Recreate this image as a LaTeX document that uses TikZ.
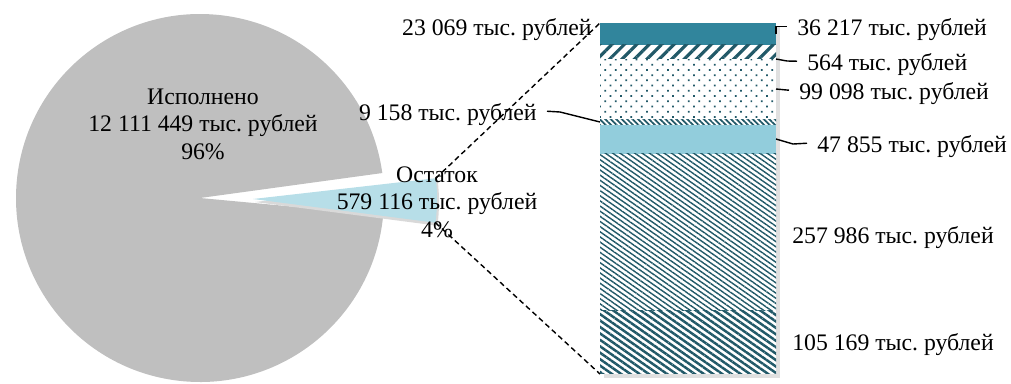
\documentclass[tikz,border=0pt]{standalone}
\usepackage{fontspec}
\setmainfont{Liberation Serif}
\usetikzlibrary{positioning,patterns.meta}
\definecolor{doneGray}{HTML}{BFBFBF}
\definecolor{restBlue}{HTML}{B7DEE8}
\definecolor{barTeal}{HTML}{31859C}
\definecolor{hatchTeal}{HTML}{215968}
\definecolor{paleTeal}{HTML}{92CDDC}
\frenchspacing

\begin{document}
\begin{tikzpicture}
	[x=0.02cm, y=-0.02cm,
	every node/.style={font=\fontsize{13.5pt}{15.6pt}\selectfont},
	lbl/.style={inner xsep=0.2cm, inner ysep=0pt, text height=13pt, text depth=3pt},
	pielbl/.style={align=center, inner sep=0pt},
	lead/.style={draw=black, line width=0.8pt},
	zoomline/.style={draw=black, line width=0.8pt, dash pattern=on 3pt off 2pt},
	seg/.style={pattern color=hatchTeal}]
	\useasboundingbox (0,0) rectangle (1011,383);

	% pie
	\coordinate (done) at (200,198);
	\coordinate (rest) at (253,199);
	\fill[doneGray] (done) -- ++(5.3:184) arc[start angle=5.3, end angle=352.2, radius=184] -- cycle;
	\fill[black!15] ([shift={(2,3)}]rest) -- ++(-6.5:184) arc[start angle=-6.5, end angle=7.4, radius=184] -- cycle;
	\fill[restBlue] (rest) -- ++(-6.5:184) arc[start angle=-6.5, end angle=7.4, radius=184] -- cycle;
	\path (rest) ++(-6.5:184) coordinate (restTop);
	\path (rest) ++(7.4:184) coordinate (restBot);

	% bar
	\fill[black!12] (604,27) rectangle (780,378);
	\fill[barTeal] (600,23) rectangle (776,44.95);
	\fill[white] (600,44.95) rectangle (776,373.98);
	\fill[seg, pattern={Lines[angle=45,distance=5pt,line width=1.8pt]}] (600,44.95) rectangle (776,58.93);
	\fill[seg, pattern={Dots[distance=4.2pt,radius=0.7pt,angle=45]}] (600,59.27) rectangle (776,119.33);
	\fill[seg, pattern={Lines[angle=-45,distance=2.2pt,line width=1pt]}] (600,119.33) rectangle (776,124.88);
	\fill[paleTeal] (600,124.88) rectangle (776,153.88);
	\fill[seg, pattern={Lines[angle=-35,distance=2.4pt,line width=0.8pt]}] (600,153.88) rectangle (776,310.24);
	\fill[seg, pattern={Lines[angle=-35,distance=3pt,line width=1.4pt]}] (600,310.24) rectangle (776,373.98);
	\coordinate (barTL) at (600,23);
	\coordinate (barBL) at (600,374);
	\coordinate (r36) at (776,34);
	\coordinate (r564) at (776,59);
	\coordinate (r99) at (776,89);
	\coordinate (r47) at (776,139);
	\coordinate (l9) at (600,122);

	% labels
	\node[pielbl] (tDone) at (203,124) {Исполнено\\12 111 449 тыс. рублей\\96\%};
	\node[pielbl] (tRest) at (437,202) {Остаток\\579 116 тыс. рублей\\4\%};
	\node[lbl, anchor=base east] (n23) at (602,35) {23 069 тыс. рублей};
	\node[lbl, anchor=base east] (n9) at (547,120) {9 158 тыс. рублей};
	\node[lbl, anchor=base west] (n36) at (787,35) {36 217 тыс. рублей};
	\node[lbl, anchor=base west] (n564) at (797,70) {564 тыс. рублей};
	\node[lbl, anchor=base west] (n99) at (789,99) {99 098 тыс. рублей};
	\node[lbl, anchor=base west] (n47) at (807,152) {47 855 тыс. рублей};
	\node[lbl, anchor=base west] (n257) at (782,243) {257 986 тыс. рублей};
	\node[lbl] (n105) [below=1.58cm of n257] {105 169 тыс. рублей};

	\draw[lead] (r36) |- (n36.west);
	\draw[lead] (r564) -- ++(11,2) -- (n564.west);
	\draw[lead] (r99) -- (n99.west);
	\draw[lead] (r47) -- ++(17,5) -- (n47.west);
	\draw[lead] (l9) -- ++(-40,-10) -- (n9.east);

	\draw[zoomline] (restTop) -- (barTL);
	\draw[zoomline] (restBot) -- (barBL);

\end{tikzpicture}
\end{document}
